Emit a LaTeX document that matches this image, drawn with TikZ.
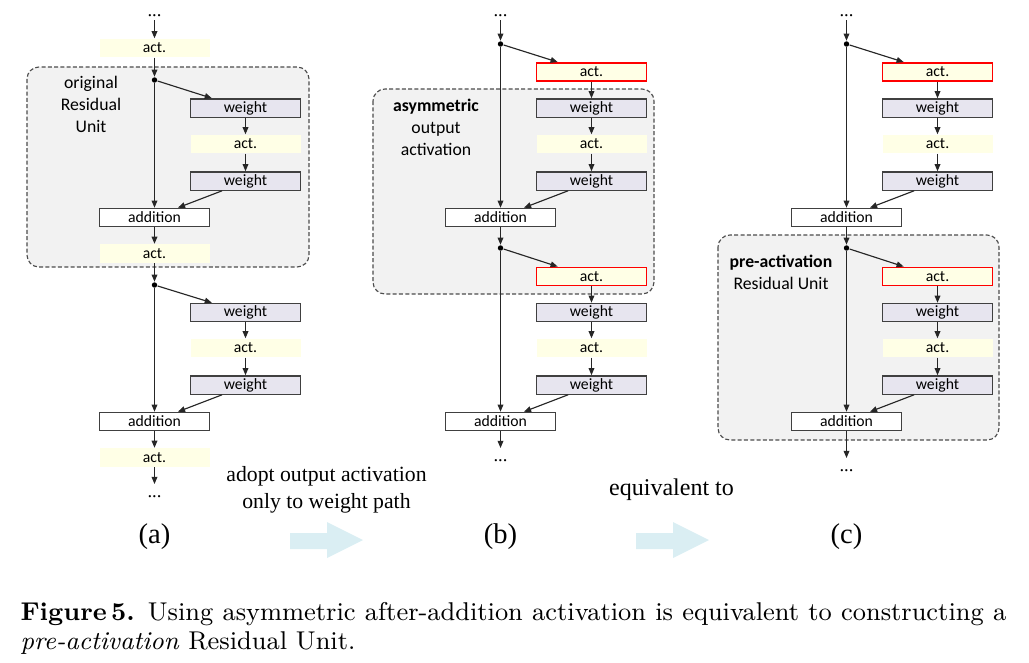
\documentclass[tikz,border=0pt]{standalone}
\usepackage{fontspec}
\newfontfamily\diafont{Carlito}
\newfontfamily\timesfont{Liberation Serif}
\usetikzlibrary{arrows.meta}
\definecolor{actyellow}{HTML}{FFFFE6}
\definecolor{wgtgray}{HTML}{E7E5EF}
\definecolor{unitgray}{HTML}{F2F2F2}
\definecolor{flowblue}{HTML}{DAEEF3}

\begin{document}
\begin{tikzpicture}[x=0.35pt, y=-0.35pt,
        blk/.style={minimum width=38.5pt, minimum height=6.4pt, inner sep=0pt, font=\diafont\fontsize{5.5}{6}\selectfont},
        act/.style={blk, fill=actyellow},
        redact/.style={blk, fill=actyellow, draw=red, line width=0.55pt},
        wgt/.style={blk, fill=wgtgray, draw=black!75, line width=0.45pt},
        addn/.style={blk, fill=white, draw=black!75, line width=0.45pt},
        dot/.style={circle, fill=black, inner sep=0pt, minimum size=1.9pt},
        vdots/.style={inner sep=1pt, text height=3.5pt, text depth=0pt, font=\timesfont\fontsize{6.5}{7}\selectfont},
        conn/.style={-{Triangle[length=2.5pt,width=2pt]}, line width=0.4pt, black!85},
        unitbox/.style={draw=black!70, line width=0.4pt, dash pattern=on 1.4pt off 0.8pt, fill=unitgray, rounded corners=4.2pt},
        unitlbl/.style={align=center, font=\diafont\fontsize{6.2}{7.7}\selectfont},
        note/.style={align=center, font=\timesfont\fontsize{7.6}{9.5}\selectfont},
        sub/.style={font=\timesfont\fontsize{10}{12}\selectfont},
        flow/.style={fill=flowblue}]
    \useasboundingbox (0,0) rectangle (1029,662);

    % (a) original
    \draw[unitbox] (27,67) rectangle (309,267);
    \node[unitlbl] (alabel) at (91,104) {original\\Residual\\Unit};
    \node[vdots, anchor=south] (atop) at (154.5,20) {...};
    \node[act] (a0) at (154.5,48) {act.};
    \node[dot] (a1) at (154.5,80) {};
    \node[wgt] (aw1) at (245.5,108) {weight};
    \node[act] (aact1) at (245.5,144) {act.};
    \node[wgt] (aw2) at (245.5,181) {weight};
    \node[addn] (aadd1) at (154.5,217.5) {addition};
    \node[act] (aact2) at (154.5,253.5) {act.};
    \node[dot] (a2) at (154.5,285) {};
    \node[wgt] (aw3) at (245.5,312.5) {weight};
    \node[act] (aact3) at (245.5,348) {act.};
    \node[wgt] (aw4) at (245.5,385) {weight};
    \node[addn] (aadd2) at (154.5,421.5) {addition};
    \node[act] (aact4) at (154.5,457.5) {act.};
    \node[vdots, anchor=north] (abot) at (154.5,484) {...};

    \draw[conn] (atop) -- (a0);
    \draw[conn] (a0) -- (a1);
    \draw[conn] (a1) -- ([xshift=7.7pt]aw1.north west);
    \draw[conn] (aw1) -- (aact1);
    \draw[conn] (aact1) -- (aw2);
    \draw[conn] ([xshift=-8.2pt]aw2.south) -- ([xshift=8.2pt]aadd1.north);
    \draw[conn] (a1) -- (aadd1);
    \draw[conn] (aadd1) -- (aact2);
    \draw[conn] (aact2) -- (a2);
    \draw[conn] (a2) -- ([xshift=7.7pt]aw3.north west);
    \draw[conn] (aw3) -- (aact3);
    \draw[conn] (aact3) -- (aw4);
    \draw[conn] ([xshift=-8.2pt]aw4.south) -- ([xshift=8.2pt]aadd2.north);
    \draw[conn] (a2) -- (aadd2);
    \draw[conn] (aadd2) -- (aact4);
    \draw[conn] (aact4) -- (abot);

    % (b) asymmetric
    \draw[unitbox] (373,89) rectangle (654,294);
    \node[unitlbl] (blabel) at (436,127.5) {\textbf{asymmetric}\\output\\activation};
    \node[vdots, anchor=south] (btop) at (500.5,20) {...};
    \node[dot] (b1) at (500.5,44) {};
    \node[redact] (bact1) at (591.5,72) {act.};
    \node[wgt] (bw1) at (591.5,108) {weight};
    \node[act] (bact2) at (591.5,144) {act.};
    \node[wgt] (bw2) at (591.5,181) {weight};
    \node[addn] (badd1) at (500.5,217.5) {addition};
    \node[dot] (b2) at (500.5,248) {};
    \node[redact] (bact3) at (591.5,276.5) {act.};
    \node[wgt] (bw3) at (591.5,312.5) {weight};
    \node[act] (bact4) at (591.5,348) {act.};
    \node[wgt] (bw4) at (591.5,385) {weight};
    \node[addn] (badd2) at (500.5,421.5) {addition};
    \node[vdots, anchor=north] (bbot) at (500.5,448) {...};

    \draw[conn] (btop) -- (b1);
    \draw[conn] (b1) -- ([xshift=7.7pt]bact1.north west);
    \draw[conn] (bact1) -- (bw1);
    \draw[conn] (bw1) -- (bact2);
    \draw[conn] (bact2) -- (bw2);
    \draw[conn] ([xshift=-8.2pt]bw2.south) -- ([xshift=8.2pt]badd1.north);
    \draw[conn] (b1) -- (badd1);
    \draw[conn] (badd1) -- (b2);
    \draw[conn] (b2) -- ([xshift=7.7pt]bact3.north west);
    \draw[conn] (bact3) -- (bw3);
    \draw[conn] (bw3) -- (bact4);
    \draw[conn] (bact4) -- (bw4);
    \draw[conn] ([xshift=-8.2pt]bw4.south) -- ([xshift=8.2pt]badd2.north);
    \draw[conn] (b2) -- (badd2);
    \draw[conn] (badd2) -- (bbot);

    % (c) pre-activation
    \draw[unitbox] (718,235) rectangle (999,440);
    \node[unitlbl] (clabel) at (781,272.5) {\textbf{pre-activation}\\Residual Unit};
    \node[vdots, anchor=south] (ctop) at (846.5,20) {...};
    \node[dot] (c1) at (846.5,44) {};
    \node[redact] (cact1) at (937.5,72) {act.};
    \node[wgt] (cw1) at (937.5,108) {weight};
    \node[act] (cact2) at (937.5,144) {act.};
    \node[wgt] (cw2) at (937.5,181) {weight};
    \node[addn] (cadd1) at (846.5,217.5) {addition};
    \node[dot] (c2) at (846.5,248) {};
    \node[redact] (cact3) at (937.5,276.5) {act.};
    \node[wgt] (cw3) at (937.5,312.5) {weight};
    \node[act] (cact4) at (937.5,348) {act.};
    \node[wgt] (cw4) at (937.5,385) {weight};
    \node[addn] (cadd2) at (846.5,421.5) {addition};
    \node[vdots, anchor=north] (cbot) at (846.5,458) {...};

    \draw[conn] (ctop) -- (c1);
    \draw[conn] (c1) -- ([xshift=7.7pt]cact1.north west);
    \draw[conn] (cact1) -- (cw1);
    \draw[conn] (cw1) -- (cact2);
    \draw[conn] (cact2) -- (cw2);
    \draw[conn] ([xshift=-8.2pt]cw2.south) -- ([xshift=8.2pt]cadd1.north);
    \draw[conn] (c1) -- (cadd1);
    \draw[conn] (cadd1) -- (c2);
    \draw[conn] (c2) -- ([xshift=7.7pt]cact3.north west);
    \draw[conn] (cact3) -- (cw3);
    \draw[conn] (cw3) -- (cact4);
    \draw[conn] (cact4) -- (cw4);
    \draw[conn] ([xshift=-8.2pt]cw4.south) -- ([xshift=8.2pt]cadd2.north);
    \draw[conn] (c2) -- (cadd2);
    \draw[conn] (cadd2) -- (cbot);

    % notes and sub-labels
    \node[note] (adopt) at (326.5,489.5) {adopt output activation\\only to weight path};
    \node[note, font=\timesfont\fontsize{8.4}{10}\selectfont] (equiv) at (671.5,490) {equivalent to};
    \node[sub] (suba) at (154.5,537) {(a)};
    \node[sub] (subb) at (500.5,537) {(b)};
    \node[sub] (subc) at (846.5,537) {(c)};
    \fill[flow] (290,533) -- (327,533) -- (327,522) -- (363,540) -- (327,558) -- (327,549) -- (290,549) -- cycle;
    \fill[flow] (636,533) -- (673,533) -- (673,522) -- (709,540) -- (673,558) -- (673,549) -- (636,549) -- cycle;

    \node[anchor=north west, text width=345pt, align=justify, inner sep=0pt, font=\fontsize{9}{10.1}\selectfont] (caption) at (20,602)
        {\textbf{Figure\,5.} Using asymmetric after-addition activation is equivalent to constructing a\linebreak \emph{pre-activation} Residual Unit.};
\end{tikzpicture}
\end{document}
